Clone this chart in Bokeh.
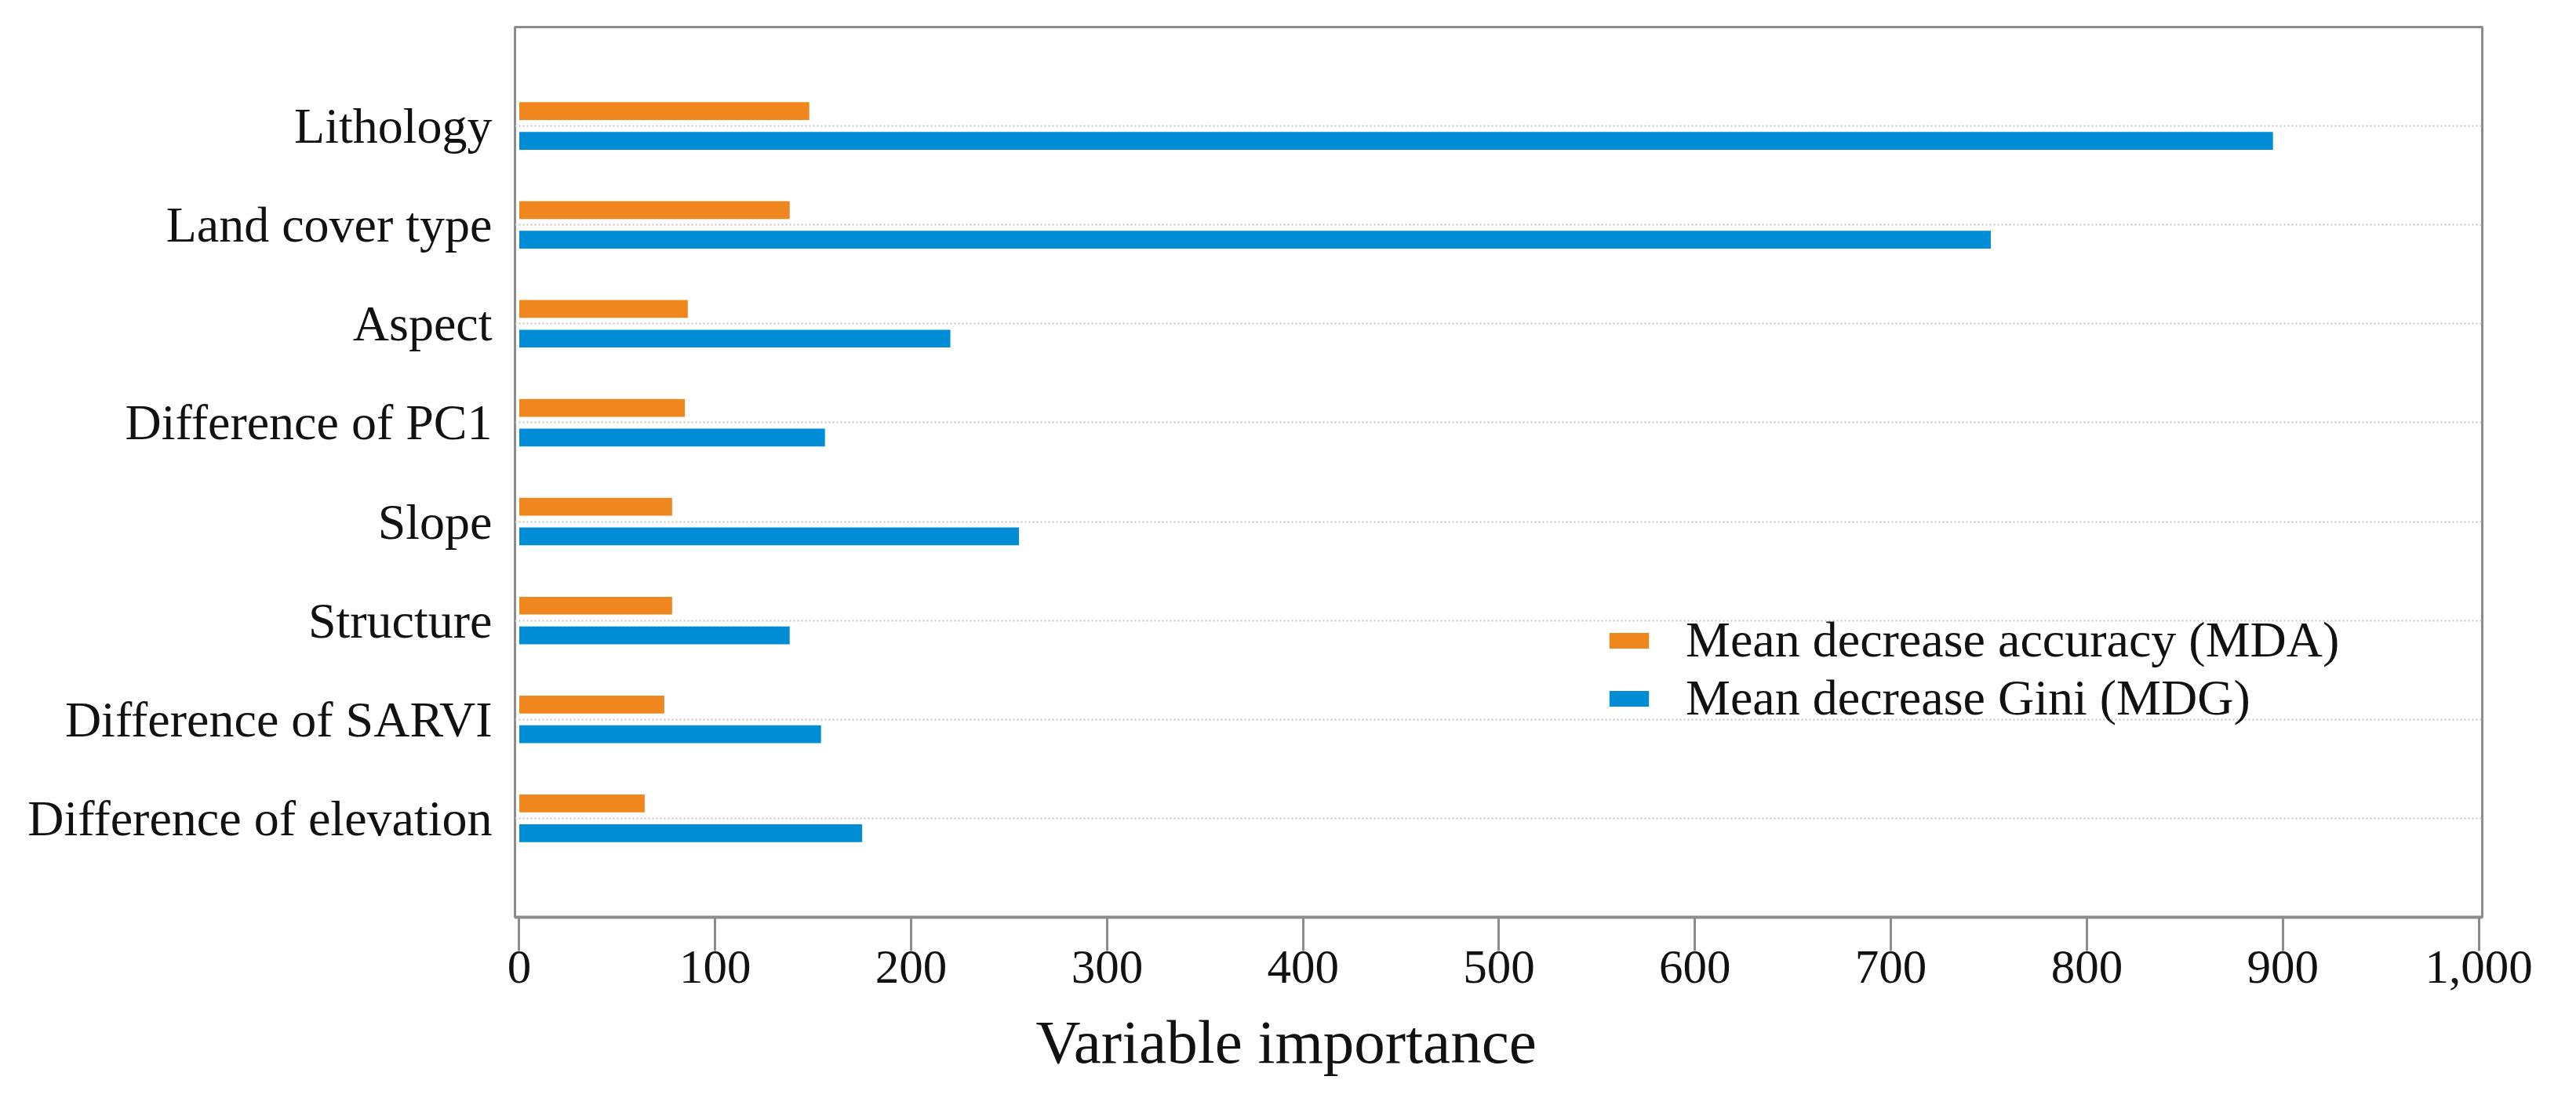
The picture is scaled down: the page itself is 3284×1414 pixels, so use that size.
from bokeh.plotting import figure
from bokeh.models import (ColumnDataSource, FactorRange, Range1d, FixedTicker,
                          NumeralTickFormatter, Legend, LegendItem, Title)
from bokeh.transform import dodge
from bokeh.embed import file_html
from bokeh.resources import INLINE

# ---- data ----
categories = ["Lithology", "Land cover type", "Aspect", "Difference of PC1",
              "Slope", "Structure", "Difference of SARVI", "Difference of elevation"]
mda = [148, 138, 86, 84.5, 78, 78, 74, 64]          # Mean decrease accuracy
mdg = [895, 751, 220, 156, 255, 138, 154, 175]      # Mean decrease Gini
series_names = ["Mean decrease accuracy (MDA)", "Mean decrease Gini (MDG)"]
x_ticks = [0, 100, 200, 300, 400, 500, 600, 700, 800, 900, 1000]
x_title = "Variable importance"

ORANGE = "#EF871E"
BLUE = "#008DD5"
GREY = "#8c8c8c"
FONT = "Liberation Serif"

src = ColumnDataSource(dict(cat=categories, mda=mda, mdg=mdg))

p = figure(width=3264, height=1398,
           y_range=FactorRange(factors=categories[::-1], range_padding=0.5,
                               range_padding_units="absolute"),
           x_range=Range1d(-2.2, 1001.8),
           output_backend="svg", toolbar_location=None,
           min_border_left=656, min_border_right=100,
           min_border_top=34, min_border_bottom=229)
p.background_fill_color = "white"
p.border_fill_color = "white"
p.outline_line_color = GREY
p.outline_line_width = 3

r1 = p.hbar(y=dodge("cat", 0.15, range=p.y_range), left=0, right="mda",
            height=0.18, source=src, fill_color=ORANGE, line_color=None)
r2 = p.hbar(y=dodge("cat", -0.15, range=p.y_range), left=0, right="mdg",
            height=0.18, source=src, fill_color=BLUE, line_color=None)

# grids
p.xgrid.grid_line_color = None
p.ygrid.grid_line_color = "#c4c4c4"
p.ygrid.grid_line_dash = "2 3"
p.ygrid.grid_line_width = 2

# y axis (categories)
p.yaxis.axis_line_color = None
p.yaxis.major_tick_line_color = None
p.yaxis.minor_tick_line_color = None
p.yaxis.major_label_text_font = FONT
p.yaxis.major_label_text_font_size = "64px"
p.yaxis.major_label_text_color = "#111111"
p.yaxis.major_label_standoff = 23

# x axis
p.xaxis.ticker = FixedTicker(ticks=x_ticks)
p.xaxis.formatter = NumeralTickFormatter(format="0,0")
p.xaxis.axis_line_color = GREY
p.xaxis.axis_line_width = 4
p.xaxis.major_tick_line_color = GREY
p.xaxis.major_tick_line_width = 3
p.xaxis.major_tick_out = 43
p.xaxis.major_tick_in = 0
p.xaxis.minor_tick_line_color = None
p.xaxis.major_label_text_font = FONT
p.xaxis.major_label_text_font_size = "61px"
p.xaxis.major_label_text_color = "#111111"
p.xaxis.major_label_standoff = 0

# axis title, placed near the centre of the whole figure
p.add_layout(Title(text=x_title, align="left", offset=664,
                   text_font=FONT, text_font_size="79px", text_font_style="normal",
                   text_color="#111111", standoff=54), "below")

legend = Legend(items=[LegendItem(label=series_names[0], renderers=[r1]),
                       LegendItem(label=series_names[1], renderers=[r2])],
                location=(1389, 242), padding=0, margin=0, spacing=0,
                glyph_width=63, glyph_height=25, label_standoff=41,
                label_text_font=FONT, label_text_font_size="64px",
                label_text_color="#111111",
                border_line_color=None, background_fill_alpha=0)
p.add_layout(legend)

open("out.html", "w").write(file_html(p, INLINE))
